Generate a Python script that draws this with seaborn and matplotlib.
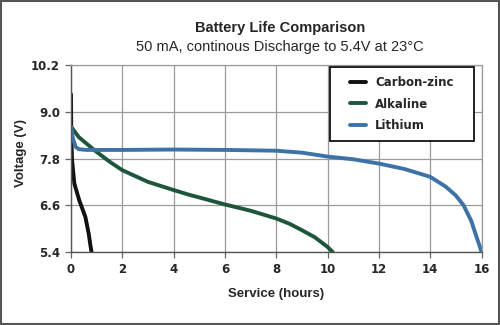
import numpy as np
import pandas as pd
import matplotlib
matplotlib.use("Agg")
import matplotlib.pyplot as plt
import seaborn as sns

# Data
cz_hours = [0.0, 0.01, 0.04, 0.13, 0.32, 0.56, 0.69, 0.75, 0.8]
cz_volts = [9.45, 8.45, 7.77, 7.16, 6.73, 6.3, 5.87, 5.6, 5.4]

alk_hours = [0.0, 0.3, 0.9, 1.5, 2.0, 3.0, 4.0, 4.6, 5.0, 6.0, 7.0, 8.0, 8.5, 9.0, 9.5, 10.0, 10.2]
alk_volts = [8.62, 8.35, 8.02, 7.72, 7.5, 7.2, 6.99, 6.87, 6.8, 6.62, 6.46, 6.26, 6.13, 5.96, 5.78, 5.53, 5.4]

li_hours = [0.0, 0.08, 0.18, 0.3, 0.6, 2.0, 4.0, 6.0, 8.0, 9.0, 10.0, 11.0, 12.0, 13.0, 14.0, 14.6, 15.0, 15.3, 15.6, 15.8, 15.93, 16.0]
li_volts = [8.62, 8.3, 8.1, 8.04, 8.02, 8.02, 8.03, 8.02, 8.0, 7.95, 7.85, 7.78, 7.67, 7.53, 7.33, 7.08, 6.85, 6.6, 6.2, 5.8, 5.55, 5.4]

series_names = ["Carbon-zinc", "Alkaline", "Lithium"]
colors = ["#111111", "#1d563a", "#3d72a6"]

x_ticks = [0, 2, 4, 6, 8, 10, 12, 14, 16]
y_ticks = [5.4, 6.6, 7.8, 9.0, 10.2]

rows = []
for name, hs, vs in zip(series_names, [cz_hours, alk_hours, li_hours], [cz_volts, alk_volts, li_volts]):
    for i, (h, v) in enumerate(zip(hs, vs)):
        rows.append({"Service": h, "Voltage": v, "Battery": name, "order": i})
df = pd.DataFrame(rows)

sns.set_theme(style="white")
plt.rcParams['font.family'] = ['DejaVu Sans']

fig = plt.figure(figsize=(5, 3.25), dpi=100)
ax = fig.add_axes([0.142, 0.2246, 0.821, 0.5754])

sns.lineplot(data=df, x="Service", y="Voltage", hue="Battery", hue_order=series_names,
             palette=colors, sort=False, estimator=None, units="Battery", linewidth=2.8,
             ax=ax, legend=True)

ax.set_xlim(0, 16)
ax.set_ylim(5.4, 10.2)
ax.set_xticks(x_ticks)
ax.set_yticks(y_ticks)
ax.set_xticklabels([str(t) for t in x_ticks], fontweight="bold", fontsize=8.5)
ax.set_yticklabels([f"{t:.1f}" for t in y_ticks], fontweight="bold", fontsize=8.5)
ax.grid(True, color="#9a9a9a", linewidth=0.9)
ax.tick_params(axis="both", which="both", length=4, width=0.9, color="#666666", pad=4,
               left=True, bottom=True, direction="out")
for s in ["top", "right"]:
    ax.spines[s].set_color("#9a9a9a")
    ax.spines[s].set_linewidth(0.9)
for s in ["left", "bottom"]:
    ax.spines[s].set_color("#555555")
    ax.spines[s].set_linewidth(1.0)

ax.set_xlabel("Service (hours)", fontweight="bold", fontsize=9.5, family="Liberation Sans")
ax.set_ylabel("Voltage (V)", fontweight="bold", fontsize=9.5, family="Liberation Sans")
ax.xaxis.set_label_coords(0.5, -0.195)
ax.yaxis.set_label_coords(-0.107, 0.53)

# legend frame drawn as a box in the upper right
frame = plt.Rectangle((0.63, 0.594), 0.351, 0.395, transform=ax.transAxes,
                      facecolor="white", edgecolor="#111111", linewidth=1.3, zorder=5)
ax.add_patch(frame)
leg = ax.legend(loc="center", bbox_to_anchor=(0.806, 0.791), frameon=False,
                handlelength=1.3, handletextpad=0.8, labelspacing=0.72,
                borderpad=0, borderaxespad=0, prop={"weight": "bold", "size": 8.5})
leg.set_zorder(6)
for line in leg.get_lines():
    line.set_linewidth(2.8)

fig.text(0.56, 0.915, "Battery Life Comparison", ha="center", va="center",
         fontweight="bold", fontsize=10.5, family="Liberation Sans")
fig.text(0.56, 0.855, "50 mA, continous Discharge to 5.4V at 23°C", ha="center",
         va="center", fontsize=10.5, family="Liberation Sans")

# figure border
border = plt.Rectangle((0.002, 0.003), 0.996, 0.994, transform=fig.transFigure,
                       fill=False, edgecolor="#555555", linewidth=1.5)
fig.patches.append(border)

fig.savefig("out.png", dpi=100, facecolor="white")
